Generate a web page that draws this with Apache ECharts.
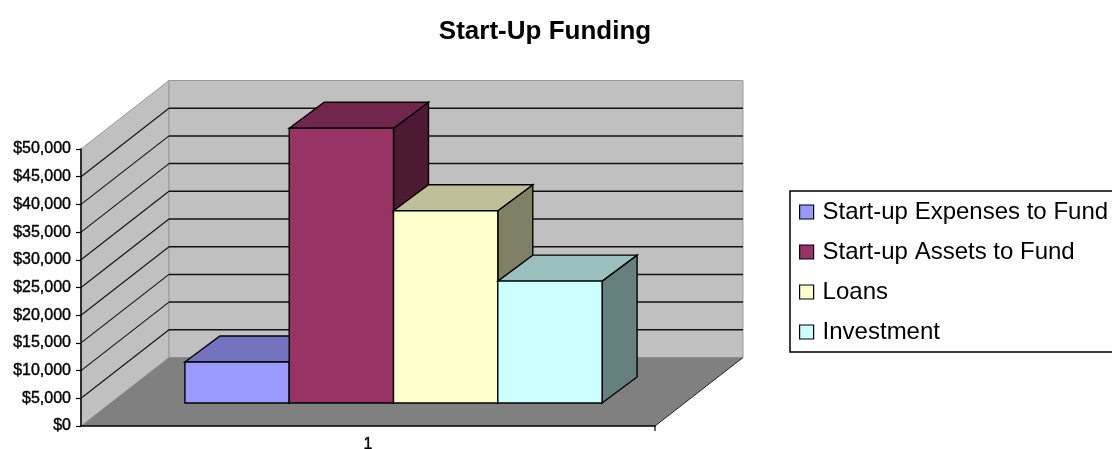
<!DOCTYPE html>
<html>
<head>
<meta charset="utf-8">
<style>html,body{margin:0;padding:0;background:#fff;overflow:hidden}#chart{width:1112px;height:449px}</style>
<script src="https://cdn.jsdelivr.net/npm/echarts@6/dist/echarts.min.js"></script>
</head>
<body>
<div id="chart"></div>
<script>
// Start-up funding figures, in dollars
const categories = ['1'];
const seriesNames = ['Start-up Expenses to Fund', 'Start-up Assets to Fund', 'Loans', 'Investment'];
const seriesValues = [7400, 49600, 34700, 22000];
const frontColors = ['#9999FF', '#993366', '#FFFFCC', '#CCFFFF'];
const topColors = ['#7373BF', '#73264D', '#BFBF99', '#99BFBF'];
const sideColors = ['#4D4D80', '#4D1A33', '#808066', '#668080'];
const valueTicks = [5000, 10000, 15000, 20000, 25000, 30000, 35000, 40000, 45000, 50000];

// Oblique projection of the box: how far the back plane shifts from the front plane
const DEPTH_X = 88, DEPTH_Y = -68.5;
// Bars stand inside the box, shifted back from the front plane
const BAR_SHIFT_X = 25.5, BAR_SHIFT_Y = -23;
const BAR_DEPTH_X = 35, BAR_DEPTH_Y = -26;
const BAR_WIDTH_SHARE = 0.1817;
const CORNER_TICK = 5;

function poly(points, fill, stroke, lineWidth) {
  return {
    type: 'polygon',
    shape: { points },
    style: { fill, stroke: stroke || null, lineWidth: lineWidth || 0 }
  };
}
function seg(a, b, stroke, lineWidth) {
  return {
    type: 'line',
    shape: { x1: a[0], y1: a[1], x2: b[0], y2: b[1] },
    style: { stroke, lineWidth }
  };
}

// Side wall, back wall, floor and their gridlines, placed from the value axis
function renderFrame(params, api) {
  const origin = api.coord([0, 0]);
  const width = api.size([1, 0])[0];
  const left = origin[0] - width / 2;
  const right = origin[0] + width / 2;
  const base = origin[1];
  const topY = api.coord([0, valueTicks[valueTicks.length - 1]])[1];
  const children = [
    poly([[left, topY], [left + DEPTH_X, topY + DEPTH_Y], [left + DEPTH_X, base + DEPTH_Y], [left, base]], '#C0C0C0', '#999', 1),
    poly([[left + DEPTH_X, topY + DEPTH_Y], [right + DEPTH_X, topY + DEPTH_Y], [right + DEPTH_X, base + DEPTH_Y], [left + DEPTH_X, base + DEPTH_Y]], '#C0C0C0', '#999', 1),
    poly([[left, base], [left + DEPTH_X, base + DEPTH_Y], [right + DEPTH_X, base + DEPTH_Y], [right, base]], '#808080')
  ];
  valueTicks.slice(0, -1).forEach(function (tick) {
    const y = api.coord([0, tick])[1];
    children.push(seg([left, y], [left + DEPTH_X, y + DEPTH_Y], '#111', 1.1));
    children.push(seg([left + DEPTH_X, y + DEPTH_Y], [right + DEPTH_X, y + DEPTH_Y], '#111', 1.5));
  });
  children.push(seg([right, base], [right + DEPTH_X, base + DEPTH_Y], '#222', 1));
  children.push(seg([right, base], [right, base + CORNER_TICK], '#000', 1.2));
  return { type: 'group', children };
}

// One oblique bar: side and top faces behind the front face
function renderBar(index) {
  return function (params, api) {
    const base = api.coord([api.value(0), 0]);
    const top = api.coord([api.value(0), api.value(1)]);
    const w = api.size([1, 0])[0] * BAR_WIDTH_SHARE;
    const x0 = base[0] + BAR_SHIFT_X + (index - seriesNames.length / 2) * w;
    const x1 = x0 + w;
    const y0 = base[1] + BAR_SHIFT_Y;
    const y1 = top[1] + BAR_SHIFT_Y;
    const dx = BAR_DEPTH_X, dy = BAR_DEPTH_Y;
    return {
      type: 'group',
      children: [
        poly([[x1, y0], [x1 + dx, y0 + dy], [x1 + dx, y1 + dy], [x1, y1]], sideColors[index], '#000', 1.4),
        poly([[x0, y1], [x0 + dx, y1 + dy], [x1 + dx, y1 + dy], [x1, y1]], topColors[index], '#000', 1.4),
        poly([[x0, y0], [x1, y0], [x1, y1], [x0, y1]], frontColors[index], '#000', 1.4)
      ]
    };
  };
}

const chart = echarts.init(document.getElementById('chart'), null, { renderer: 'canvas' });
chart.setOption({
  animation: false,
  backgroundColor: '#fff',
  title: {
    text: 'Start-Up Funding',
    left: 540,
    top: 14,
    textAlign: 'center',
    textStyle: { fontFamily: 'Liberation Sans', fontWeight: 'bold', fontSize: 26, color: '#000' }
  },
  legend: {
    orient: 'vertical',
    left: 790,
    top: 191,
    padding: [9, 40, 8, 9],
    itemGap: 16,
    itemWidth: 14,
    itemHeight: 14,
    icon: 'rect',
    borderColor: '#000',
    borderWidth: 1.5,
    data: seriesNames,
    itemStyle: { borderColor: '#000', borderWidth: 1.2 },
    textStyle: { fontFamily: 'Liberation Sans', fontSize: 24, lineHeight: 24, color: '#000', padding: [0, 0, 0, 4] }
  },
  grid: { left: 81, right: 457, top: 149, bottom: 23, outerBoundsMode: 'none' },
  xAxis: {
    type: 'category',
    data: categories,
    z: 20,
    axisLine: { lineStyle: { color: '#000', width: 1.5 } },
    axisTick: { show: false },
    axisLabel: { color: '#000', fontFamily: 'Liberation Sans', fontSize: 16, margin: 11, textBorderColor: '#000', textBorderWidth: 0.4 }
  },
  yAxis: {
    type: 'value',
    min: 0,
    max: 50000,
    interval: 5000,
    z: 20,
    splitLine: { show: false },
    axisLine: { show: true, lineStyle: { color: '#000', width: 1.5 } },
    axisTick: { show: true, length: 5, lineStyle: { color: '#000', width: 1.2 } },
    axisLabel: {
      color: '#000',
      fontFamily: 'Liberation Sans',
      fontSize: 16,
      margin: 10,
      textBorderColor: '#000',
      textBorderWidth: 0.4,
      formatter: function (v) { return '$' + v.toLocaleString('en-US'); }
    }
  },
  series: [
    { type: 'custom', name: 'frame', renderItem: renderFrame, data: [[0, 0]], z: 1, silent: true, tooltip: { show: false } }
  ].concat(seriesNames.map(function (name, i) {
    return {
      type: 'custom',
      name,
      renderItem: renderBar(i),
      data: [[0, seriesValues[i]]],
      encode: { x: 0, y: 1 },
      itemStyle: { color: frontColors[i] },
      z: 2 + i
    };
  }))
});
</script>
</body>
</html>
